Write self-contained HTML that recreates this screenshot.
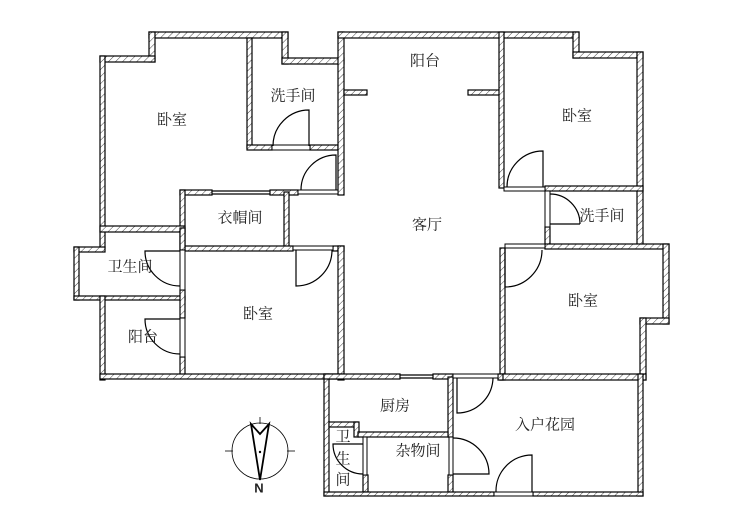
<!DOCTYPE html>
<html><head><meta charset="utf-8"><style>
html,body{margin:0;padding:0;background:#fff;}
svg{display:block;}
text{font-family:"Liberation Serif","Noto Serif CJK SC",serif;font-size:15px;fill:#222;text-anchor:middle;dominant-baseline:middle;}
</style></head><body>
<svg width="731" height="517" viewBox="0 0 731 517" xmlns="http://www.w3.org/2000/svg">
<defs>
<pattern id="h" patternUnits="userSpaceOnUse" width="5" height="5" patternTransform="rotate(45)">
<rect width="5" height="5" fill="#fff"/><line x1="0" y1="0" x2="0" y2="5" stroke="#444" stroke-width="1"/>
</pattern>
</defs>
<g fill="url(#h)" stroke="#000" stroke-width="1.2">
<rect x="149" y="32" width="139" height="6"/>
<rect x="149" y="32" width="6" height="30"/>
<rect x="100" y="56" width="55" height="6"/>
<rect x="100" y="56" width="5" height="192"/>
<rect x="282" y="32" width="6" height="32"/>
<rect x="282" y="58" width="62" height="6"/>
<rect x="247" y="38" width="5" height="110"/>
<rect x="247" y="145" width="25" height="5"/>
<rect x="310" y="145" width="28" height="5"/>
<rect x="338" y="32" width="6" height="163"/>
<rect x="338" y="32" width="241" height="6"/>
<rect x="573" y="32" width="6" height="26"/>
<rect x="573" y="52" width="70" height="6"/>
<rect x="637" y="52" width="6" height="196"/>
<rect x="344" y="90" width="23" height="5"/>
<rect x="468" y="90" width="33" height="5"/>
<rect x="499" y="32" width="5" height="156"/>
<rect x="545" y="186" width="98" height="5"/>
<rect x="545" y="227" width="5" height="20"/>
<rect x="545" y="244" width="124" height="5"/>
<rect x="663" y="244" width="6" height="80"/>
<rect x="640" y="318" width="29" height="6"/>
<rect x="640" y="318" width="6" height="62"/>
<rect x="500" y="248" width="5" height="132"/>
<rect x="500" y="374" width="146" height="6"/>
<rect x="180" y="190" width="32" height="5"/>
<rect x="270" y="190" width="28" height="5"/>
<rect x="180" y="190" width="5" height="60"/>
<rect x="284" y="192" width="5" height="56"/>
<rect x="185" y="246" width="108" height="5"/>
<rect x="333" y="246" width="11" height="5"/>
<rect x="338" y="246" width="6" height="134"/>
<rect x="100" y="226" width="85" height="6"/>
<rect x="74" y="247" width="31" height="5"/>
<rect x="74" y="247" width="5" height="53"/>
<rect x="74" y="296" width="111" height="4"/>
<rect x="100" y="296" width="5" height="84"/>
<rect x="180" y="228" width="5" height="22"/>
<rect x="180" y="290" width="5" height="28"/>
<rect x="180" y="357" width="5" height="20"/>
<rect x="100" y="374" width="244" height="5"/>
<rect x="324" y="374" width="5" height="122"/>
<rect x="324" y="374" width="76" height="5"/>
<rect x="433" y="374" width="20" height="5"/>
<rect x="498" y="374" width="5" height="6"/>
<rect x="638" y="374" width="5" height="122"/>
<rect x="448" y="377" width="5" height="60"/>
<rect x="448" y="475" width="5" height="18"/>
<rect x="329" y="422" width="29" height="5"/>
<rect x="354" y="422" width="5" height="15"/>
<rect x="358" y="432" width="90" height="5"/>
<rect x="363" y="475" width="5" height="17"/>
<rect x="324" y="492" width="170" height="4"/>
<rect x="533" y="492" width="110" height="4"/>
</g>
<g fill="#fff" stroke="#000" stroke-width="1">
<rect x="272" y="145" width="38" height="5"/>
<rect x="298" y="190" width="40" height="4"/>
<rect x="504" y="187" width="41" height="4"/>
<rect x="545" y="191" width="5" height="36"/>
<rect x="293" y="246" width="40" height="4"/>
<rect x="505" y="244" width="40" height="4"/>
<rect x="180" y="250" width="5" height="40"/>
<rect x="180" y="318" width="5" height="39"/>
<rect x="453" y="374" width="45" height="4"/>
<rect x="449" y="437" width="4" height="38"/>
<rect x="363" y="437" width="4" height="38"/>
<rect x="494" y="492" width="39" height="4"/>
</g>
<g fill="none" stroke="#000" stroke-width="1.2">
<line x1="212" y1="191" x2="270" y2="191"/><line x1="212" y1="194" x2="270" y2="194"/>
<line x1="400" y1="375" x2="433" y2="375"/><line x1="400" y1="378" x2="433" y2="378"/>
<path d="M309 146 V110 A36 36 0 0 0 273 146"/>
<path d="M336 190 V155 A35 35 0 0 0 301 190"/>
<path d="M543 187 V151 A36 36 0 0 0 507 187"/>
<path d="M580 224 H550 M550 194 A30 30 0 0 1 580 224"/>
<path d="M296 250 V286 A36 36 0 0 0 332 250"/>
<path d="M505 248 V287 A37 37 0 0 0 542 250"/>
<path d="M180 251 H145 A35 35 0 0 0 180 286"/>
<path d="M180 319 H145 A35 35 0 0 0 180 354"/>
<path d="M457 378 V413 A36 36 0 0 0 493 378"/>
<path d="M453 474 H489 A36 36 0 0 0 453 438"/>
<path d="M532 492 V455 A36 36 0 0 0 496 492"/>
<path d="M363 444 H333 A30 30 0 0 0 363 474"/>
</g>
<g fill="none" stroke="#000">
<circle cx="260" cy="451" r="28" stroke-width="0.8"/>
<line x1="225" y1="451" x2="233" y2="451" stroke-width="0.8"/>
<line x1="287" y1="451" x2="295" y2="451" stroke-width="0.8"/>
<line x1="260" y1="417" x2="260" y2="424" stroke-width="0.8"/>
<path d="M251 424 L260 434 L269 424 L260 480 Z" stroke-width="1.8" stroke-linejoin="miter"/>
</g>
<circle cx="260" cy="452" r="1.2" fill="#000"/>
<text x="259" y="489" style="font-size:13px;font-weight:bold;font-family:'Liberation Sans',sans-serif">N</text>
<text x="172" y="121">卧室</text>
<text x="293" y="97">洗手间</text>
<text x="425" y="62">阳台</text>
<text x="577" y="117">卧室</text>
<text x="240" y="219">衣帽间</text>
<text x="427" y="226">客厅</text>
<text x="602" y="217">洗手间</text>
<text x="130" y="268">卫生间</text>
<text x="258" y="315">卧室</text>
<text x="583" y="302">卧室</text>
<text x="143" y="338">阳台</text>
<text x="395" y="407">厨房</text>
<text x="545" y="426">入户花园</text>
<text x="418" y="452">杂物间</text>
<text x="343" y="438">卫</text>
<text x="343" y="460">生</text>
<text x="343" y="481">间</text>
</svg>
</body></html>
